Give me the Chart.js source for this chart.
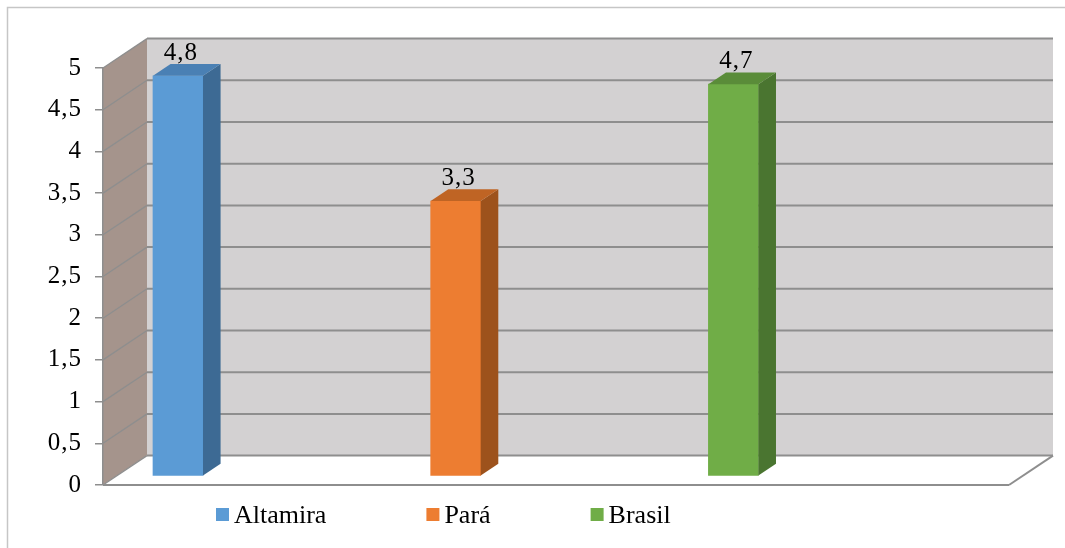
<!DOCTYPE html>
<html>
<head>
<meta charset="utf-8">
<script src="https://cdn.jsdelivr.net/npm/chart.js@4.4.0/dist/chart.umd.min.js"></script>
<style>
  body { margin: 0; background: #fff; }
  #wrap { width: 1065px; height: 548px; }
</style>
</head>
<body>
<div id="wrap"><canvas id="idebChart"></canvas></div>
<script>
const categories = ['Altamira', 'Pará', 'Brasil'];
const values = [4.8, 3.3, 4.7];
const yTickValues = [0, 0.5, 1, 1.5, 2, 2.5, 3, 3.5, 4, 4.5, 5];

const faceColors = ['#5b9bd5', '#ed7d31', '#70ad47'];
const topColors = ['#4a80b4', '#bf6424', '#5a8c39'];
const sideColors = ['#3d6a94', '#9d521c', '#4a7530'];

// depth of the box behind the front plane, and where the columns sit in it
const DEPTH = { x: 44, y: -29.4 };
const BAR_FRONT = 0.3;
const BAR_DEPTH = 0.4;

const serif = '"Liberation Serif", serif';
const fmt = v => String(v).replace('.', ',');

function poly(ctx, pts) {
    ctx.beginPath();
    ctx.moveTo(pts[0][0], pts[0][1]);
    for (let i = 1; i < pts.length; i++) ctx.lineTo(pts[i][0], pts[i][1]);
    ctx.closePath();
}

function line(ctx, x1, y1, x2, y2) {
    ctx.beginPath();
    ctx.moveTo(x1, y1);
    ctx.lineTo(x2, y2);
    ctx.stroke();
}

const box3d = {
    id: 'box3d',
    // walls, floor and gridlines
    beforeDraw(chart) {
        const { ctx, chartArea: a, scales: { y } } = chart;
        const dx = DEPTH.x, dy = DEPTH.y;
        const top = y.getPixelForValue(y.max);
        const bot = y.getPixelForValue(y.min);

        ctx.save();
        ctx.fillStyle = '#fff';
        ctx.fillRect(0, 0, chart.width, chart.height);

        ctx.strokeStyle = '#c6c6c6';
        ctx.lineWidth = 1.5;
        ctx.beginPath();
        ctx.moveTo(7.5, chart.height);
        ctx.lineTo(7.5, 7.5);
        ctx.lineTo(chart.width, 7.5);
        ctx.stroke();

        ctx.fillStyle = '#d3d1d2';
        ctx.fillRect(a.left + dx, top + dy, a.right - a.left, bot - top);

        ctx.fillStyle = '#a5948c';
        poly(ctx, [[a.left, top], [a.left + dx, top + dy], [a.left + dx, bot + dy], [a.left, bot]]);
        ctx.fill();

        ctx.fillStyle = '#fff';
        poly(ctx, [[a.left, bot], [a.right, bot], [a.right + dx, bot + dy], [a.left + dx, bot + dy]]);
        ctx.fill();

        ctx.strokeStyle = '#8e8e8e';
        yTickValues.forEach(v => {
            const py = y.getPixelForValue(v);
            ctx.lineWidth = 2;
            line(ctx, a.left + dx, py + dy, a.right + dx, py + dy);
            ctx.lineWidth = 1.3;
            line(ctx, a.left, py, a.left + dx, py + dy);
        });

        ctx.lineWidth = 2;
        line(ctx, a.left, bot, a.right, bot);
        line(ctx, a.right, bot, a.right + dx, bot + dy);
        ctx.restore();

        // the number font runs a little wide
        ctx.letterSpacing = '1px';
    },
    // push the columns back into the box
    beforeDatasetsDraw(chart) {
        chart.ctx.letterSpacing = '0px';
        chart.ctx.save();
        chart.ctx.translate(DEPTH.x * BAR_FRONT, DEPTH.y * BAR_FRONT);
    },
    afterDatasetsDraw(chart) {
        const { ctx } = chart;
        const bx = DEPTH.x * BAR_DEPTH, by = DEPTH.y * BAR_DEPTH;
        const bars = chart.getDatasetMeta(0).data;

        bars.forEach((bar, i) => {
            const { x, y, base, width } = bar.getProps(['x', 'y', 'base', 'width'], true);
            const l = x - width / 2, r = x + width / 2;
            ctx.fillStyle = sideColors[i];
            poly(ctx, [[r, y], [r + bx, y + by], [r + bx, base + by], [r, base]]);
            ctx.fill();
            ctx.fillStyle = topColors[i];
            poly(ctx, [[l, y], [r, y], [r + bx, y + by], [l + bx, y + by]]);
            ctx.fill();
        });
        ctx.restore();

        // value labels above each column
        const ox = DEPTH.x * BAR_FRONT, oy = DEPTH.y * BAR_FRONT;
        ctx.save();
        ctx.fillStyle = '#000';
        ctx.font = '25px ' + serif;
        ctx.letterSpacing = '1px';
        ctx.textAlign = 'center';
        ctx.textBaseline = 'alphabetic';
        bars.forEach((bar, i) => {
            const { x, y } = bar.getProps(['x', 'y'], true);
            ctx.fillText(fmt(values[i]), x + ox + 3, y + oy + by - 4);
        });
        ctx.restore();
    },
    // legend row under the box
    afterDraw(chart) {
        const { ctx } = chart;
        let x = 216;
        const yMid = 514.5;
        ctx.save();
        ctx.letterSpacing = '0px';
        ctx.font = '26px ' + serif;
        ctx.textBaseline = 'alphabetic';
        ctx.textAlign = 'left';
        categories.forEach((name, i) => {
            ctx.fillStyle = faceColors[i];
            ctx.fillRect(x, yMid - 6.5, 13, 13);
            ctx.fillStyle = '#000';
            ctx.fillText(name, x + 18, yMid + 8.5);
            x += 18 + ctx.measureText(name).width + 100;
        });
        ctx.restore();
    }
};

new Chart(document.getElementById('idebChart'), {
    type: 'bar',
    data: {
        datasets: [{
            label: 'IDEB',
            data: values.map((v, i) => ({ x: i, y: v })),
            backgroundColor: faceColors,
            borderWidth: 0,
            barThickness: 50,
            clip: false
        }]
    },
    options: {
        responsive: true,
        maintainAspectRatio: false,
        animation: false,
        layout: { padding: { top: 68, right: 56, bottom: 63, left: 0 } },
        plugins: {
            legend: { display: false },
            tooltip: { enabled: false }
        },
        scales: {
            x: {
                type: 'linear',
                display: false,
                offset: false,
                min: -0.2225,
                max: 3.04
            },
            y: {
                min: 0,
                max: 5,
                afterFit(scale) { scale.width = 103; },
                afterBuildTicks(scale) { scale.ticks = yTickValues.map(v => ({ value: v })); },
                grid: { drawOnChartArea: false, drawTicks: true, tickLength: 8, color: '#8e8e8e', lineWidth: 1.5 },
                border: { display: true, color: '#8e8e8e', width: 1.5 },
                ticks: {
                    padding: 13,
                    color: '#000',
                    font: { family: serif, size: 25 },
                    callback: v => fmt(v)
                }
            }
        }
    },
    plugins: [box3d]
});
</script>
</body>
</html>
